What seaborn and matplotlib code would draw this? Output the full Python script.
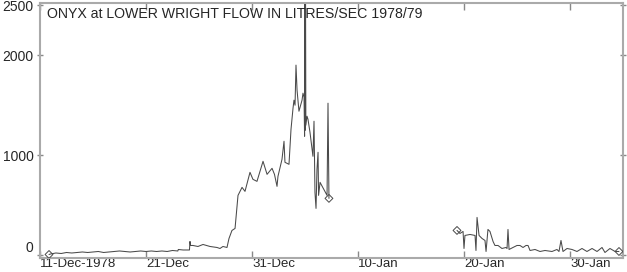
import numpy as np
import pandas as pd
import matplotlib
matplotlib.use("Agg")
import matplotlib.pyplot as plt
import seaborn as sns

# days after 11-Dec-1978 00:00
days_a = [0.85, 1.0, 1.5, 2.0, 2.5, 3.0, 3.5, 4.0, 4.5, 5.0, 5.5, 6.0, 6.5, 7.0,
          7.5, 8.0, 8.5, 9.0, 9.5, 10.0, 10.5, 11.0, 11.5, 12.0, 12.5, 13.0,
          13.05, 13.5, 14.1, 14.15, 14.2, 14.43, 14.9, 15.38, 16.04, 16.7, 16.98,
          17.26, 17.64, 17.83, 18.11, 18.4, 18.68, 19.06, 19.34, 19.81, 20.09,
          20.47, 21.04, 21.42, 21.89, 22.12, 22.36, 22.45, 22.83, 23.02, 23.11,
          23.49, 23.68, 23.87, 23.96, 24.06, 24.15, 24.25, 24.43, 24.72, 24.81,
          24.91, 24.96, 24.99, 25.02, 25.05, 25.08, 25.19, 25.28, 25.47, 25.75,
          25.85, 25.94, 26.04, 26.13, 26.23, 26.28, 26.42, 27.08, 27.17, 27.26]
flow_a = [10, 15, 25, 20, 30, 25, 30, 35, 30, 35, 40, 30, 35, 40,
          45, 40, 35, 40, 45, 40, 45, 40, 45, 40, 50, 45,
          60, 55, 55, 140, 100, 100, 90, 110, 90, 80, 70,
          90, 80, 170, 250, 270, 600, 680, 640, 830, 760,
          740, 940, 810, 870, 810, 690, 790, 960, 1140, 930,
          910, 1260, 1470, 1550, 1500, 1900, 1650, 1440, 1550, 1620,
          1580, 1190, 2700, 1250, 2650, 1300, 1390, 1360, 1230, 990,
          1340, 630, 470, 860, 1030, 600, 730, 600, 1520, 570]

days_b = [39.34, 39.62, 39.91, 40.0, 40.09, 40.57, 41.04, 41.13, 41.23, 41.42,
          41.7, 41.98, 42.08, 42.26, 42.45, 42.74, 42.92, 43.21, 43.58, 43.96,
          44.06, 44.15, 44.25, 44.62, 45.0, 45.28, 45.57, 45.85, 46.04, 46.23,
          46.7, 47.17, 47.64, 48.3, 48.77, 48.96, 49.15, 49.34, 49.72, 50.19,
          50.66, 51.13, 51.6, 52.08, 52.55, 53.02, 53.3, 53.77, 54.25, 54.62]
flow_b = [250, 220, 240, 70, 200, 210, 200, 50, 380, 200,
          170, 150, 40, 260, 240, 140, 100, 100, 70, 80,
          70, 260, 60, 80, 100, 100, 80, 100, 100, 50,
          60, 40, 50, 40, 60, 40, 150, 40, 70, 60,
          40, 70, 40, 70, 40, 80, 30, 70, 40, 40]

tick_days = [0, 10, 20, 30, 40, 50]
tick_labels = ["11-Dec-1978", "21-Dec", "31-Dec", "10-Jan", "20-Jan", "30-Jan"]
ytick_values = [0, 1000, 2000, 2500]

start = pd.Timestamp("1978-12-11")
df = pd.DataFrame({
    "day": days_a + days_b,
    "flow": flow_a + flow_b,
    "segment": ["a"] * len(days_a) + ["b"] * len(days_b),
})
df["time"] = start + pd.to_timedelta(df["day"], unit="D")
ends = df.groupby("segment").nth([0, -1])

sns.set_style("ticks")
plt.rcParams["font.family"] = ["Liberation Sans", "DejaVu Sans"]

fig = plt.figure(figsize=(6.27, 2.72), dpi=100)
ax = fig.add_axes([40 / 627, 1 - 257.5 / 272, 583 / 627, 254.5 / 272])

line_col = "#4a4a4a"
sns.lineplot(data=df, x="time", y="flow", units="segment", estimator=None,
             color=line_col, lw=0.75, ax=ax, legend=False)
sns.scatterplot(data=ends, x="time", y="flow", marker="D", s=16,
                facecolor="none", edgecolor=line_col, linewidth=0.7,
                ax=ax, legend=False, zorder=3)

ax.set_xlim(start, start + pd.Timedelta(days=55))
ax.set_ylim(-20, 2520)
ax.set_xticks([start + pd.Timedelta(days=d) for d in tick_days])
ax.set_xticklabels(tick_labels, ha="left", fontsize=9.5)
ax.set_yticks(ytick_values)
ax.set_yticklabels([str(v) for v in ytick_values], fontsize=10)
for lab in ax.get_yticklabels():
    if lab.get_text() == "0":
        lab.set_va("bottom")
ax.set_xlabel("")
ax.set_ylabel("")

spine_col = "#aaaaaa"
for sp in ax.spines.values():
    sp.set_color(spine_col)
    sp.set_linewidth(1.5)
ax.tick_params(axis="x", direction="in", length=5, width=1, color="#888888",
               top=True, labeltop=False, pad=0.5)
ax.tick_params(axis="y", direction="inout", length=5, width=1, color="#888888",
               right=True, labelright=False, pad=2)

ax.text(0.012, 0.985, "ONYX at LOWER WRIGHT FLOW IN LITRES/SEC 1978/79",
        transform=ax.transAxes, ha="left", va="top", fontsize=10.2)

plt.savefig("out.png", dpi=100)
plt.close()
